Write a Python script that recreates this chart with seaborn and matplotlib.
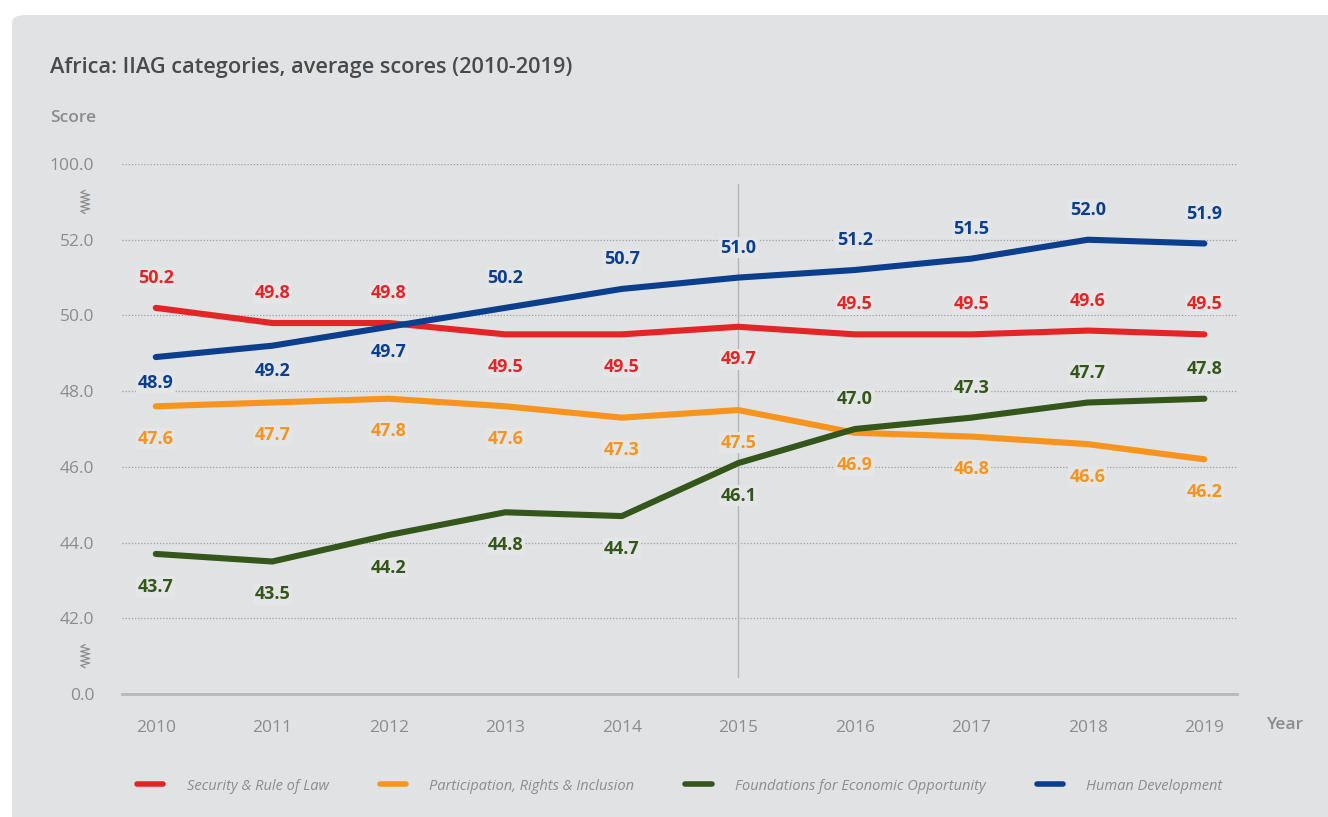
import numpy as np
import pandas as pd
import matplotlib
matplotlib.use("Agg")
import matplotlib.pyplot as plt
import seaborn as sns
from matplotlib.patches import FancyBboxPatch
from matplotlib.ticker import FixedLocator, FuncFormatter, NullLocator

# Data
years = list(range(2010, 2020))
security = [50.2, 49.8, 49.8, 49.5, 49.5, 49.7, 49.5, 49.5, 49.6, 49.5]
participation = [47.6, 47.7, 47.8, 47.6, 47.3, 47.5, 46.9, 46.8, 46.6, 46.2]
foundations = [43.7, 43.5, 44.2, 44.8, 44.7, 46.1, 47.0, 47.3, 47.7, 47.8]
human_dev = [48.9, 49.2, 49.7, 50.2, 50.7, 51.0, 51.2, 51.5, 52.0, 51.9]
categories = ["Security & Rule of Law", "Participation, Rights & Inclusion",
              "Foundations for Economic Opportunity", "Human Development"]
y_ticks = [0, 42, 44, 46, 48, 50, 52, 100]

colors = ["#E42527", "#F7941D", "#34561A", "#0B3F8E"]
# label placement: +1 above the line, -1 below
label_side = [
    [1, 1, 1, -1, -1, -1, 1, 1, 1, 1],
    [-1] * 10,
    [-1, -1, -1, -1, -1, -1, 1, 1, 1, 1],
    [-1, -1, -1, 1, 1, 1, 1, 1, 1, 1],
]

series = [security, participation, foundations, human_dev]
df = pd.DataFrame({
    "Year": years * 4,
    "Score": security + participation + foundations + human_dev,
    "Category": [c for c in categories for _ in years],
})

bg = "#E1E2E4"
grey_txt = "#8C8C8C"

sns.set_style("white")
plt.rcParams["font.family"] = ["Open Sans", "DejaVu Sans"]

fig = plt.figure(figsize=(13.28, 8.17), dpi=100)
fig.patch.set_facecolor("white")
panel = FancyBboxPatch((12 / 1328, -0.05), 1.2, 1.05 - 15 / 817,
                       boxstyle="round,pad=0,rounding_size=0.01",
                       transform=fig.transFigure, fc=bg, ec="none", zorder=-5)
fig.patches.append(panel)

ax = fig.add_axes([122 / 1328, 123 / 817, 1115 / 1328, 530 / 817])
ax.set_facecolor("none")
ax.set_zorder(2)

# broken axis: 0-42 and 52-100 compressed to one step each
bp = [0, 42, 52, 100]
pp = [0, 1, 6, 7]
ax.set_yscale("function", functions=(lambda y: np.interp(y, bp, pp),
                                     lambda p: np.interp(p, pp, bp)))
ax.set_ylim(0, 100)
ax.set_xlim(2009.71, 2019.28)

sns.lineplot(data=df, x="Year", y="Score", hue="Category", palette=colors,
             linewidth=4.4, ax=ax, legend=True, solid_capstyle="round", zorder=3)

for k, vals in enumerate(series):
    for i, v in enumerate(vals):
        if label_side[k][i] > 0:
            off = 21.5
        else:
            off = -18.5 if k == 3 else -23.5
        ax.annotate(f"{v:.1f}", (years[i], v), xytext=(0, off),
                    textcoords="offset points", ha="center", va="center",
                    color=colors[k], fontsize=13, fontweight="bold", zorder=4,
                    bbox=dict(boxstyle="square,pad=0.08", fc="#E4E5E6", ec="none"))

# grid, axis
ax.yaxis.set_major_locator(FixedLocator(y_ticks))
ax.yaxis.set_minor_locator(NullLocator())
ax.yaxis.set_major_formatter(FuncFormatter(lambda v, p: f"{v:.1f}"))
for t in y_ticks[1:]:
    ax.axhline(t, color="#9E9E9E", lw=0.9, ls=(0, (1, 1.5)), zorder=1)
ax.axvline(2015, ymin=0.032, ymax=0.962, color="#B4B4B4", lw=1, zorder=1)

ax.set_xticks(years)
ax.tick_params(axis="y", length=0, pad=20, labelsize=12.5, labelcolor=grey_txt)
ax.tick_params(axis="x", length=0, pad=19, labelsize=12.5, labelcolor=grey_txt)
for s in ["top", "right", "left"]:
    ax.spines[s].set_visible(False)
ax.spines["bottom"].set_color("#B8B8B8")
ax.spines["bottom"].set_linewidth(2)
ax.set_xlabel("")
ax.set_ylabel("")

# break marks
zz_y = np.linspace(-0.022, 0.022, 11)
zz_x = np.array([0, -1, 1, -1, 1, -1, 1, -1, 1, -1, 0]) * 0.004
for yc in [6.5 / 7, 0.5 / 7]:
    ax.plot(-0.033 + zz_x, yc + zz_y, transform=ax.transAxes, color=grey_txt,
            lw=0.9, clip_on=False)

fig.text(50 / 1328, 1 - 67 / 817, "Africa: IIAG categories, average scores (2010-2019)",
         fontsize=15.7, fontweight="semibold", color="#4A4A4A", va="center")
fig.text(50 / 1328, 1 - 118 / 817, "Score", fontsize=12.5, fontweight="semibold",
         color=grey_txt, va="center")
fig.text(1267 / 1328, 1 - 725 / 817, "Year", fontsize=12.5, fontweight="semibold",
         color=grey_txt, va="center")

handles, labels = ax.get_legend_handles_labels()
ax.get_legend().remove()
leg = fig.legend(handles, labels, loc="center", bbox_to_anchor=(0.512, 1 - 786 / 817),
                 ncol=4, frameon=False, handlelength=1.8, handletextpad=1.6,
                 columnspacing=3.5, prop={"size": 10.5, "style": "italic"})
for t in leg.get_texts():
    t.set_color(grey_txt)
for h in leg.legend_handles:
    h.set_linewidth(4)

fig.savefig("out.png", dpi=100)
